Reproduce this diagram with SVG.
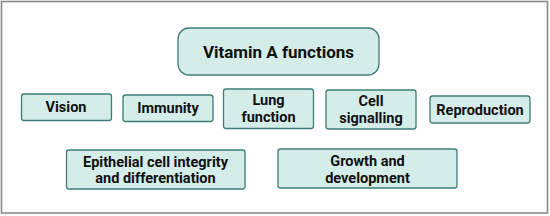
<svg xmlns="http://www.w3.org/2000/svg" width="550" height="216" viewBox="0 0 550 216">
<style>
.bx{fill:#d4ede8;stroke:#3e7d75;stroke-width:1.3}
.t{font-family:Roboto,"Liberation Sans",sans-serif;font-weight:bold;font-size:14.5px;fill:#111;text-anchor:middle}
.tt{font-size:17px}
</style>
<rect x="0" y="0" width="550" height="216" fill="#ffffff"/>
<rect x="1.5" y="1.5" width="546" height="211.5" fill="none" stroke="#8a8a8a" stroke-width="1.6"/>
<g id="title">
<rect class="bx" x="178" y="28" width="201" height="47" rx="11"/>
<text class="t tt" x="278.5" y="57.5">Vitamin A functions</text>
</g>
<g id="vision">
<rect class="bx" x="21.5" y="94" width="90" height="26.5" rx="2.5"/>
<text class="t" x="66" y="112">Vision</text>
</g>
<g id="immunity">
<rect class="bx" x="123" y="95" width="90" height="26.5" rx="2.5"/>
<text class="t" x="168" y="113">Immunity</text>
</g>
<g id="lung">
<rect class="bx" x="223.5" y="89" width="90" height="39.5" rx="2.5"/>
<text class="t" x="268.5" y="105">Lung</text>
<text class="t" x="268.5" y="122">function</text>
</g>
<g id="cell">
<rect class="bx" x="326" y="90" width="90" height="39" rx="2.5"/>
<text class="t" x="371" y="106">Cell</text>
<text class="t" x="371" y="123">signalling</text>
</g>
<g id="reproduction">
<rect class="bx" x="430" y="96" width="100" height="27" rx="2.5"/>
<text class="t" x="480" y="114.5">Reproduction</text>
</g>
<g id="epithelial">
<rect class="bx" x="66.5" y="150" width="178.5" height="39" rx="2.5"/>
<text class="t" x="155.5" y="166.5">Epithelial cell integrity</text>
<text class="t" x="155.5" y="183">and differentiation</text>
</g>
<g id="growth">
<rect class="bx" x="278" y="149" width="179" height="39" rx="2.5"/>
<text class="t" x="367.5" y="165.5">Growth and</text>
<text class="t" x="367.5" y="182.5">development</text>
</g>
<g id="connectors"></g>
</svg>
